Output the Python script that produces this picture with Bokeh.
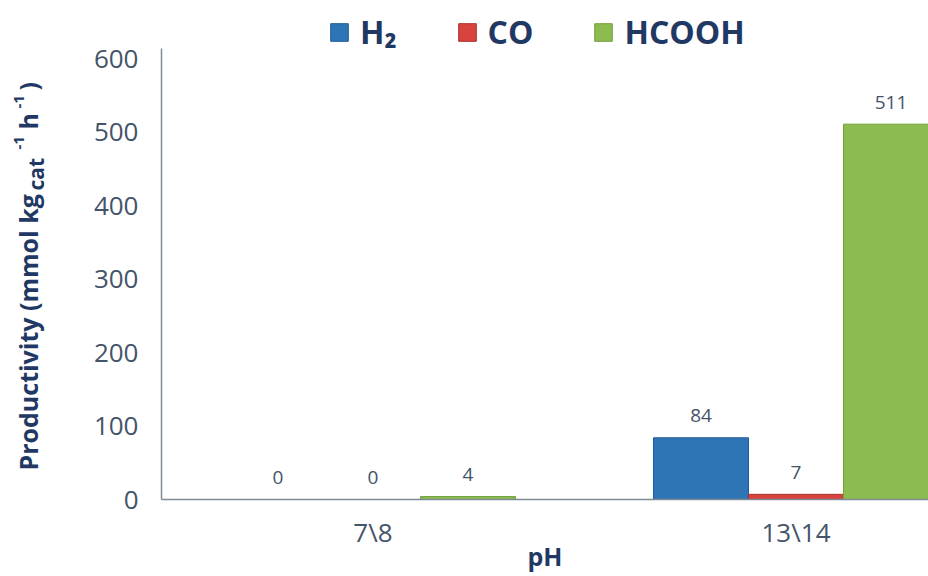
from math import pi
from bokeh.plotting import figure
from bokeh.layouts import row
from bokeh.models import (Range1d, FixedTicker, ColumnDataSource, Legend,
                          LegendItem, Label)
from bokeh.core.properties import value
from bokeh.embed import file_html
from bokeh.resources import INLINE
from bokeh.transform import dodge

# ---- data ----
categories = ["7\\8", "13\\14"]
series = ["H₂", "CO", "HCOOH"]
h2 = [0, 84]
co = [0, 7]
hcooh = [4, 511]
y_ticks = [0, 100, 200, 300, 400, 500, 600]
y_axis_max = 614

# ---- style ----
colors = ["#2e75b6", "#d9433d", "#8cbb4f"]
edges = ["#1f5c96", "#a8302c", "#74a03c"]
NAVY = "#1f3864"
SLATE = "#44546a"
FONT = "Open Sans"
BAR = 0.2246
PX_X = 423.0     # px per category unit
PX_Y = 0.7345    # px per value unit
LW = 56          # width of the y-title strip
W, H = 928, 576
BOTTOM = 77

pos = [i + 0.5 for i in range(len(categories))]

p = figure(width=W - LW, height=H, output_backend="svg", toolbar_location=None,
           x_range=Range1d(0, (W - 161) / PX_X),
           y_range=Range1d(0, (H - BOTTOM) / PX_Y),
           min_border_left=161 - LW, min_border_right=0,
           min_border_bottom=BOTTOM, min_border_top=0)
p.outline_line_color = None
p.xgrid.visible = False
p.ygrid.visible = False

src = ColumnDataSource(dict(
    x=pos, h2=h2, co=co, hcooh=hcooh,
    h2_t=[str(v) for v in h2], co_t=[str(v) for v in co],
    hcooh_t=[str(v) for v in hcooh]))

rends = []
for i, (key, c, e) in enumerate(zip(["h2", "co", "hcooh"], colors, edges)):
    off = (i - 1) * BAR
    r = p.vbar(x=dodge("x", off), top=key, width=BAR, source=src,
               fill_color=c, line_color=e, line_width=1)
    rends.append(r)
    p.text(x=dodge("x", off), y=key, text=key + "_t", source=src,
           text_align="center", text_baseline="middle", y_offset=-22,
           text_font=value(FONT), text_font_size="19px", text_color=SLATE)

legend = Legend(items=[LegendItem(label=s, renderers=[r]) for s, r in zip(series, rends)],
                orientation="horizontal", location=(167, 446),
                label_text_font=FONT, label_text_font_style="bold",
                label_text_font_size="32px", label_text_color=NAVY,
                glyph_width=22, glyph_height=22, label_standoff=10, spacing=59,
                padding=0, margin=0, border_line_color=None,
                background_fill_alpha=0)
p.add_layout(legend, "center")

# axes
for ax in (p.xaxis[0], p.yaxis[0]):
    ax.major_tick_line_color = None
    ax.minor_tick_line_color = None
    ax.axis_line_color = "#7f8a98"
    ax.axis_line_width = 1.5
    ax.major_label_text_font = FONT
    ax.major_label_text_font_size = "26px"
    ax.major_label_text_color = SLATE

p.xaxis.ticker = FixedTicker(ticks=pos)
p.xaxis.major_label_overrides = {pos[i]: categories[i] for i in range(len(categories))}
p.xaxis.major_label_standoff = 8
p.xaxis.axis_label = "pH"
p.xaxis.axis_label_standoff = -14
p.xaxis.axis_label_text_font = FONT
p.xaxis.axis_label_text_font_style = "bold"
p.xaxis.axis_label_text_font_size = "25px"
p.xaxis.axis_label_text_color = NAVY

p.yaxis.ticker = FixedTicker(ticks=y_ticks)
p.yaxis.bounds = (0, y_axis_max)
p.yaxis.major_label_standoff = 17

# ---- y-axis title strip (sub/superscripts composed from pieces) ----
t = figure(width=LW, height=H, output_backend="svg", toolbar_location=None,
           x_range=Range1d(0, LW), y_range=p.y_range,
           x_axis_location=None, y_axis_location=None,
           min_border_left=0, min_border_right=0,
           min_border_top=0, min_border_bottom=BOTTOM)
t.outline_line_color = None
t.xgrid.visible = False
t.ygrid.visible = False

# (text, baseline x px, start y px in the reference, font px)
pieces = [
    ("Productivity (mmol kg", 37, 470, 25),
    ("cat", 44, 190, 21),
    ("-1", 24, 149, 15),
    ("h", 37, 129, 25),
    ("-1", 24, 108, 15),
    (")", 37, 90, 25),
]
for txt, bx, by, fs in pieces:
    t.add_layout(Label(x=bx - 0.388 * fs, y=(499 - by) / PX_Y, text=txt,
                       angle=pi / 2, text_align="left", text_baseline="middle",
                       text_font=FONT, text_font_style="bold",
                       text_font_size=f"{fs}px", text_color=NAVY))

layout = row(t, p, spacing=0)
open("out.html", "w").write(file_html(layout, INLINE))
